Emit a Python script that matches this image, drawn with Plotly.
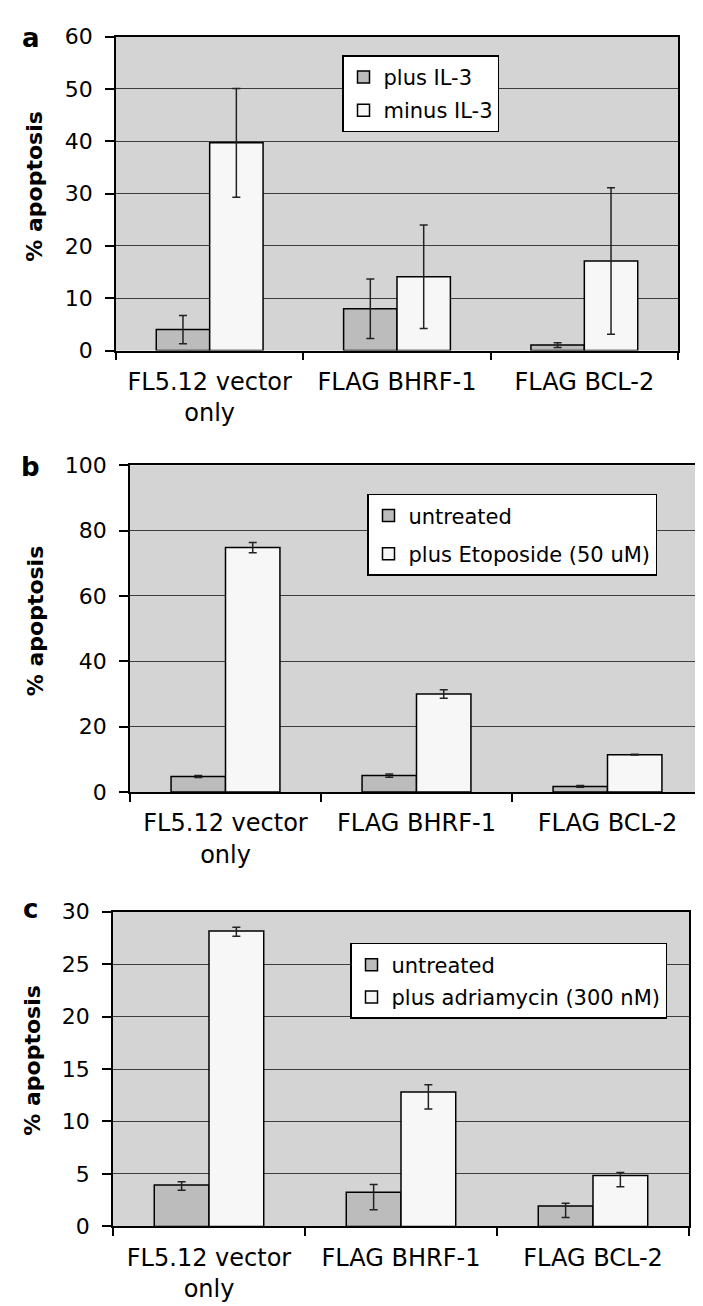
import plotly.graph_objects as go

# ---------------- data ----------------
categories = ["FL5.12 vector<br>only", "FLAG BHRF-1", "FLAG BCL-2"]

a_names = ["plus IL-3", "minus IL-3"]
a_plus = [4.0, 8.0, 1.05]
a_plus_err = [2.7, 5.7, 0.45]
a_minus = [39.7, 14.1, 17.1]
a_minus_err = [10.4, 9.9, 14.0]

b_names = ["untreated", "plus Etoposide (50 uM)"]
b_untreated = [4.7, 5.0, 1.7]
b_untreated_err = [0.3, 0.5, 0.3]
b_etoposide = [74.8, 30.0, 11.4]
b_etoposide_err = [1.6, 1.3, 0.1]

c_names = ["untreated", "plus adriamycin (300 nM)"]
c_untreated = [3.95, 3.25, 1.95]
c_untreated_err_up = [0.3, 0.75, 0.25]
c_untreated_err_down = [0.5, 1.65, 1.1]
c_adria = [28.15, 12.8, 4.85]
c_adria_err_up = [0.35, 0.7, 0.28]
c_adria_err_down = [0.5, 1.62, 1.07]

y_ranges = [[0, 60], [0, 100], [0, 30]]
y_dticks = [10, 20, 5]
panel_letters = ["a", "b", "c"]
y_title = "% apoptosis"

# ---------------- style ----------------
W, H = 703, 1306
FONT = "DejaVu Sans"
DARK_FILL = "#bcbcbc"
LIGHT_FILL = "#f7f7f7"
PLOT_BG = "#d4d4d4"
GRID = "#3c3c3c"


def px_x(p):
    return p / W


def px_y(p):
    return 1 - p / H


# pixel geometry of each panel: (left, right, top, bottom)
panels = [(108, 670, 17, 337), (122, 695, 454, 787), (105, 681, 909, 1230)]
legend_pos = [(334, 36), (359, 483), (342, 941)]
title_pos = [(27, 170), (27, 613), (25, 1061)]
letter_pos = [(23, 18), (23, 456), (23, 906)]

fig = go.Figure()


def add_bar(name, y, err_up, err_down, color, idx, legend):
    xa = "x" if idx == 0 else f"x{idx + 1}"
    ya = "y" if idx == 0 else f"y{idx + 1}"
    fig.add_trace(go.Bar(
        x=categories, y=y, name=name,
        marker=dict(color=color, line=dict(color="black", width=1.5)),
        error_y=dict(type="data", array=err_up, arrayminus=err_down,
                     symmetric=False, color="#222222", thickness=1.5, width=4),
        xaxis=xa, yaxis=ya, legend=legend, legendgroup=f"{legend}_{name}",
    ))


add_bar(a_names[0], a_plus, a_plus_err, a_plus_err, DARK_FILL, 0, "legend")
add_bar(a_names[1], a_minus, a_minus_err, a_minus_err, LIGHT_FILL, 0, "legend")
add_bar(b_names[0], b_untreated, b_untreated_err, b_untreated_err, DARK_FILL, 1, "legend2")
add_bar(b_names[1], b_etoposide, b_etoposide_err, b_etoposide_err, LIGHT_FILL, 1, "legend2")
add_bar(c_names[0], c_untreated, c_untreated_err_up, c_untreated_err_down, DARK_FILL, 2, "legend3")
add_bar(c_names[1], c_adria, c_adria_err_up, c_adria_err_down, LIGHT_FILL, 2, "legend3")

layout = dict(
    width=W, height=H,
    margin=dict(l=0, r=0, t=0, b=0),
    paper_bgcolor="white",
    plot_bgcolor=PLOT_BG,
    barmode="group", bargap=0.43, bargroupgap=0.0,
    font=dict(family=FONT, size=22, color="black"),
    showlegend=True,
)

gaps = [3, 8, 2]
for i, (l, r, t, b) in enumerate(panels):
    sx = "xaxis" if i == 0 else f"xaxis{i + 1}"
    sy = "yaxis" if i == 0 else f"yaxis{i + 1}"
    anchor_x = "y" if i == 0 else f"y{i + 1}"
    anchor_y = "x" if i == 0 else f"x{i + 1}"
    layout[sx] = dict(
        domain=[px_x(l), px_x(r)], anchor=anchor_x, type="category",
        showline=True, linecolor="black", linewidth=1.5, mirror=True,
        ticks="outside", tickson="boundaries", ticklen=8, tickwidth=1.5,
        tickcolor="black", showgrid=False,
        tickfont=dict(family=FONT, size=24, color="black"),
        ticklabelstandoff=9,
    )
    layout[sy] = dict(
        domain=[px_y(b), px_y(t)], anchor=anchor_y,
        range=y_ranges[i], dtick=y_dticks[i], tick0=0,
        showline=True, linecolor="black", linewidth=1.5, mirror=True,
        ticks="outside", ticklen=9, tickwidth=1.5, tickcolor="black",
        showgrid=True, gridcolor=GRID, gridwidth=1, zeroline=False,
        tickfont=dict(family=FONT, size=22, color="black"),
        ticklabelstandoff=8,
    )
    lg = "legend" if i == 0 else f"legend{i + 1}"
    lx, ly = legend_pos[i]
    layout[lg] = dict(
        x=px_x(lx), y=px_y(ly), xanchor="left", yanchor="top",
        xref="paper", yref="paper",
        bgcolor="white", bordercolor="black", borderwidth=1.5,
        font=dict(family=FONT, size=21, color="black"),
        traceorder="grouped", tracegroupgap=gaps[i],
    )

annotations = []
for i in range(3):
    tx, ty = title_pos[i]
    annotations.append(dict(
        text=f"<b>{y_title}</b>", x=px_x(tx), y=px_y(ty), xref="paper", yref="paper",
        textangle=-90, showarrow=False, xanchor="center", yanchor="middle",
        font=dict(family=FONT, size=22, color="black"),
    ))
    lx, ly = letter_pos[i]
    annotations.append(dict(
        text=f"<b>{panel_letters[i]}</b>", x=px_x(lx), y=px_y(ly), xref="paper", yref="paper",
        showarrow=False, xanchor="center", yanchor="middle",
        font=dict(family=FONT, size=26, color="black"),
    ))
layout["annotations"] = annotations

fig.update_layout(**layout)
fig.write_html("out.html")
